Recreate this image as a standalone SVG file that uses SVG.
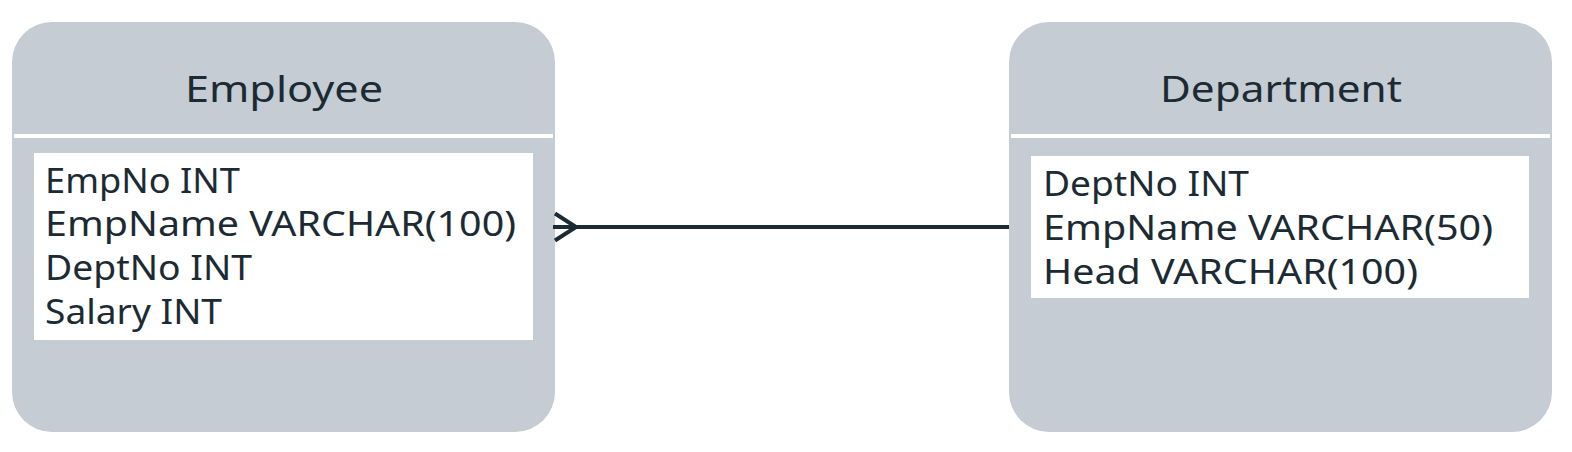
<svg xmlns="http://www.w3.org/2000/svg" width="1572" height="452" viewBox="0 0 1572 452">
  <style>
    .box { fill: #c5ccd4; }
    .sep { fill: #ffffff; }
    .fields { fill: #ffffff; }
    .title { font-family: "Noto Sans", "Liberation Sans", sans-serif; font-size: 37px; fill: #1c2b33; text-anchor: middle; }
    .attr { font-family: "Noto Sans", "Liberation Sans", sans-serif; font-size: 35px; fill: #1c2b33; }
    .conn { stroke: #1c2b33; stroke-width: 4; fill: none; }
  </style>
  <rect width="1572" height="452" fill="#ffffff"/>
  <g id="employee">
    <rect class="box" x="12" y="22" width="543" height="410" rx="40" ry="40"/>
    <rect class="sep" x="14" y="134" width="539" height="4"/>
    <text class="title" x="284" y="102" textLength="198" lengthAdjust="spacingAndGlyphs">Employee</text>
    <rect class="fields" x="34" y="153" width="499" height="187"/>
    <text class="attr" x="45" y="193" textLength="195" lengthAdjust="spacingAndGlyphs">EmpNo INT</text>
    <text class="attr" x="45" y="236" textLength="471" lengthAdjust="spacingAndGlyphs">EmpName VARCHAR(100)</text>
    <text class="attr" x="45" y="279.5" textLength="207" lengthAdjust="spacingAndGlyphs">DeptNo INT</text>
    <text class="attr" x="45" y="323.5" textLength="177" lengthAdjust="spacingAndGlyphs">Salary INT</text>
  </g>
  <g id="department">
    <rect class="box" x="1009" y="22" width="543" height="410" rx="40" ry="40"/>
    <rect class="sep" x="1011" y="134" width="539" height="4"/>
    <text class="title" x="1281" y="102" textLength="242" lengthAdjust="spacingAndGlyphs">Department</text>
    <rect class="fields" x="1031" y="156" width="498" height="142"/>
    <text class="attr" x="1043" y="195.5" textLength="206" lengthAdjust="spacingAndGlyphs">DeptNo INT</text>
    <text class="attr" x="1043" y="239.5" textLength="450" lengthAdjust="spacingAndGlyphs">EmpName VARCHAR(50)</text>
    <text class="attr" x="1043" y="283.5" textLength="375" lengthAdjust="spacingAndGlyphs">Head VARCHAR(100)</text>
  </g>
  <g id="connectors">
    <line class="conn" x1="553" y1="227" x2="1009" y2="227"/>
    <polyline class="conn" points="555,213.5 576,227 555,240.5"/>
  </g>
</svg>
